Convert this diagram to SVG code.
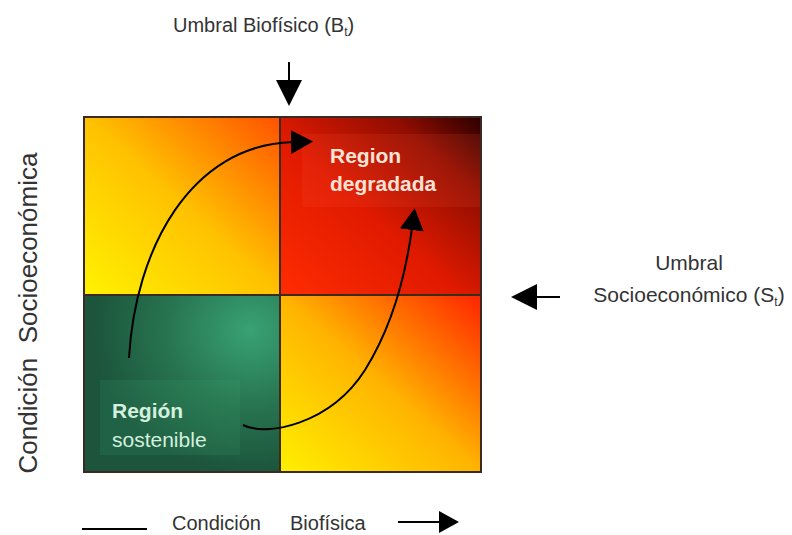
<svg xmlns="http://www.w3.org/2000/svg" width="792" height="535" viewBox="0 0 792 535">
  <style>
    .lbl { font-family: "Liberation Sans", Arial, sans-serif; fill: #333333; }
    .inner { font-family: "Liberation Sans", Arial, sans-serif; }
    .conn { fill: none; stroke: #000000; stroke-width: 2; }
    .grid { fill: none; stroke: #3a2a22; stroke-width: 2; }
  </style>
  <defs>
    <linearGradient id="gTL" x1="0" y1="1" x2="1" y2="0">
      <stop offset="0" stop-color="#fff200"/>
      <stop offset="0.5" stop-color="#ffc200"/>
      <stop offset="1" stop-color="#ff5200"/>
    </linearGradient>
    <linearGradient id="gTR" x1="0" y1="1" x2="1" y2="0">
      <stop offset="0" stop-color="#ff2c00"/>
      <stop offset="0.45" stop-color="#e01a00"/>
      <stop offset="0.78" stop-color="#900d00"/>
      <stop offset="1" stop-color="#2a0000"/>
    </linearGradient>
    <linearGradient id="gBR" x1="0" y1="1" x2="1" y2="0">
      <stop offset="0" stop-color="#fff000"/>
      <stop offset="0.5" stop-color="#ffb400"/>
      <stop offset="1" stop-color="#ff2400"/>
    </linearGradient>
    <radialGradient id="gBL" cx="0.85" cy="0.2" r="0.8">
      <stop offset="0" stop-color="#38a274"/>
      <stop offset="0.55" stop-color="#27734f"/>
      <stop offset="1" stop-color="#1c553c"/>
    </radialGradient>
    <marker id="head" markerUnits="userSpaceOnUse" markerWidth="24" markerHeight="26" refX="2" refY="12" orient="auto" viewBox="0 0 24 26">
      <path d="M0,0 L22,12 L0,24 z" fill="#000"/>
    </marker>
    <marker id="headBig" markerUnits="userSpaceOnUse" markerWidth="30" markerHeight="28" refX="2" refY="13" orient="auto" viewBox="0 0 30 28">
      <path d="M0,0 L26,13 L0,26 z" fill="#000"/>
    </marker>
    <marker id="headSm" markerUnits="userSpaceOnUse" markerWidth="22" markerHeight="24" refX="2" refY="11" orient="auto" viewBox="0 0 22 24">
      <path d="M0,0 L20,11 L0,22 z" fill="#000"/>
    </marker>
  </defs>

  <g id="quad-tl">
    <rect x="84" y="117" width="196" height="178" fill="url(#gTL)"/>
  </g>
  <g id="quad-tr">
    <rect x="280" y="117" width="201" height="178" fill="url(#gTR)"/>
    <rect x="302" y="134" width="179" height="73" fill="#ff6040" opacity="0.12"/>
    <text class="inner" x="330" y="163" font-size="21" font-weight="bold" fill="#fde2d6">Region</text>
    <text class="inner" x="330" y="191" font-size="21" font-weight="bold" fill="#fde2d6">degradada</text>
  </g>
  <g id="quad-bl">
    <rect x="84" y="295" width="196" height="177" fill="url(#gBL)"/>
    <rect x="100" y="380" width="140" height="75" fill="#3aa070" opacity="0.18"/>
    <text class="inner" x="112" y="418" font-size="21" font-weight="bold" fill="#d4f0de">Región</text>
    <text class="inner" x="112" y="447" font-size="21" fill="#d4f0de">sostenible</text>
  </g>
  <g id="quad-br">
    <rect x="280" y="295" width="201" height="178" fill="url(#gBR)"/>
  </g>
  <g id="grid">
    <rect class="grid" x="84" y="117" width="397" height="355" stroke-width="2.5"/>
    <line class="grid" x1="280" y1="117" x2="280" y2="473"/>
    <line class="grid" x1="84" y1="295" x2="481" y2="295"/>
  </g>

  <g id="label-top">
    <text class="lbl" x="173" y="32" font-size="20">Umbral Biofísico (B<tspan font-size="12" dy="4">t</tspan><tspan dy="-4">)</tspan></text>
  </g>
  <g id="label-right">
    <text class="lbl" x="689" y="270" font-size="21" text-anchor="middle">Umbral</text>
    <text class="lbl" x="689" y="302" font-size="21" text-anchor="middle">Socioeconómico (S<tspan font-size="12" dy="4">t</tspan><tspan dy="-4">)</tspan></text>
  </g>
  <g id="label-left">
    <text class="lbl" transform="translate(37,313) rotate(-90)" font-size="26" text-anchor="middle" xml:space="preserve">Condición  Socioeconómica</text>
  </g>
  <g id="label-bottom">
    <text class="lbl" y="530" font-size="20"><tspan x="172">Condición</tspan><tspan x="290">Biofísica</tspan></text>
  </g>

  <g id="connectors">
    <path class="conn" d="M129,358 C135,250 190,145 293,142" marker-end="url(#head)"/>
    <path class="conn" d="M243,425 C265,437 330,425 365,370 C390,330 405,280 412,228" marker-end="url(#head)"/>
    <line class="conn" x1="289" y1="62" x2="289" y2="82" marker-end="url(#headBig)"/>
    <line class="conn" x1="560" y1="297" x2="535" y2="297" marker-end="url(#headBig)"/>
    <line class="conn" x1="398" y1="522" x2="441" y2="522" marker-end="url(#headSm)"/>
    <line class="conn" x1="82" y1="529" x2="147" y2="529"/>
  </g>
</svg>
